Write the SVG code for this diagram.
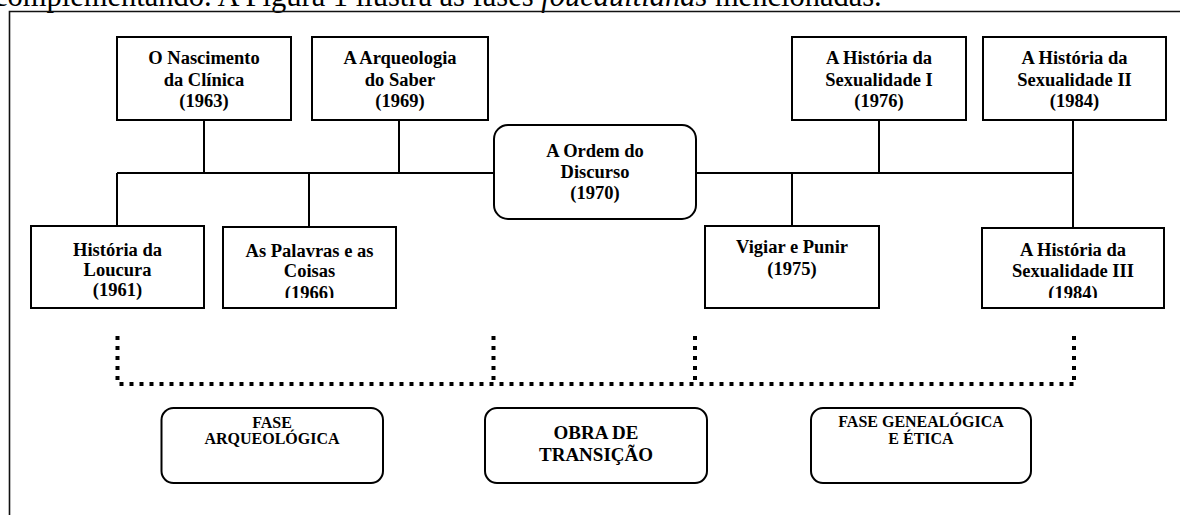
<svg xmlns="http://www.w3.org/2000/svg" width="1180" height="515" viewBox="0 0 1180 515">
<style>
.box{fill:#fff;stroke:#000;stroke-width:2}
.lbl{font-family:"Liberation Serif","Times New Roman",serif;font-weight:bold;font-size:18.5px;text-anchor:middle;fill:#000}
.ph{font-family:"Liberation Serif","Times New Roman",serif;font-weight:bold;font-size:16px;text-anchor:middle;fill:#000}
.ln{fill:none;stroke:#000;stroke-width:2}
.dot{fill:none;stroke:#000;stroke-width:4;stroke-dasharray:4 6}
</style>
<defs>
<clipPath id="c1"><rect x="223" y="227" width="173" height="71"/></clipPath>
<clipPath id="c2"><rect x="982" y="228" width="182" height="70"/></clipPath>
</defs>
<rect width="1180" height="515" fill="#fff"/>
<text x="-6" y="6" font-family="'Liberation Serif','Times New Roman',serif" font-size="30.5" fill="#000">complementando. A Figura 1 ilustra as fases <tspan font-style="italic">foucaultianas</tspan> mencionadas.</text>
<path d="M9.5 515 V11.5 H1180" fill="none" stroke="#111" stroke-width="1.6"/>
<g id="connectors">
<path class="ln" d="M204 120 V173 M399 120 V173 M117 173 H494 M117 173 V226 M309 173 V227 M696 173 H1073 M879 120 V173 M792 173 V226 M1073 120 V228"/>
<path class="dot" d="M117.5 336 V384 H1074 M493.5 336 V384 M695 336 V384 M1074 336 V384"/>
</g>
<g id="n1"><rect class="box" x="117" y="37" width="174" height="83"/>
<text class="lbl" x="204" y="64">O Nascimento</text><text class="lbl" x="204" y="86">da Clínica</text><text class="lbl" x="204" y="107">(1963)</text></g>
<g id="n2"><rect class="box" x="312" y="37" width="176" height="83"/>
<text class="lbl" x="400" y="64">A Arqueologia</text><text class="lbl" x="400" y="86">do Saber</text><text class="lbl" x="400" y="107">(1969)</text></g>
<g id="n3"><rect class="box" x="31" y="226" width="173" height="82"/>
<text class="lbl" x="117.5" y="256">História da</text><text class="lbl" x="117.5" y="276">Loucura</text><text class="lbl" x="117.5" y="296">(1961)</text></g>
<g id="n4"><rect class="box" x="223" y="227" width="173" height="81"/>
<g clip-path="url(#c1)"><text class="lbl" x="309.5" y="257">As Palavras e as</text><text class="lbl" x="309.5" y="277">Coisas</text><text class="lbl" x="309.5" y="299">(1966)</text></g></g>
<g id="n5"><rect class="box" x="494" y="125" width="202" height="94" rx="14"/>
<text class="lbl" x="595" y="157">A Ordem do</text><text class="lbl" x="595" y="178">Discurso</text><text class="lbl" x="595" y="199">(1970)</text></g>
<g id="n6"><rect class="box" x="792" y="37" width="174" height="83"/>
<text class="lbl" x="879" y="64">A História da</text><text class="lbl" x="879" y="86">Sexualidade I</text><text class="lbl" x="879" y="107">(1976)</text></g>
<g id="n7"><rect class="box" x="983" y="37" width="183" height="83"/>
<text class="lbl" x="1074.5" y="64">A História da</text><text class="lbl" x="1074.5" y="86">Sexualidade II</text><text class="lbl" x="1074.5" y="107">(1984)</text></g>
<g id="n8"><rect class="box" x="705" y="226" width="174" height="82"/>
<text class="lbl" x="792" y="253">Vigiar e Punir</text><text class="lbl" x="792" y="275">(1975)</text></g>
<g id="n9"><rect class="box" x="982" y="228" width="182" height="80"/>
<g clip-path="url(#c2)"><text class="lbl" x="1073" y="256">A História da</text><text class="lbl" x="1073" y="277">Sexualidade III</text><text class="lbl" x="1073" y="299">(1984)</text></g></g>
<g id="p1"><rect class="box" x="161.5" y="408" width="221.5" height="75" rx="12"/>
<text class="ph" x="272" y="428">FASE</text><text class="ph" x="272" y="444">ARQUEOLÓGICA</text></g>
<g id="p2"><rect class="box" x="485" y="408" width="222" height="75" rx="12"/>
<text class="ph" x="596" y="439" style="font-size:19px">OBRA DE</text><text class="ph" x="596" y="461" style="font-size:19px">TRANSIÇÃO</text></g>
<g id="p3"><rect class="box" x="811" y="408" width="220" height="75" rx="12"/>
<text class="ph" x="921" y="427">FASE GENEALÓGICA</text><text class="ph" x="921" y="444">E ÉTICA</text></g>
</svg>
